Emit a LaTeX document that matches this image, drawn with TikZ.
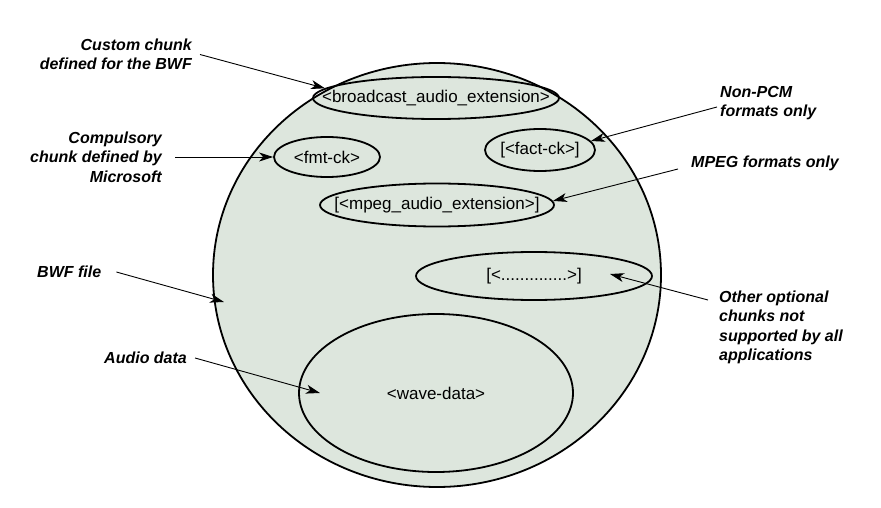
\documentclass[tikz,border=0pt]{standalone}
\usepackage{fontspec}
\setmainfont{Liberation Sans}
\usetikzlibrary{shapes.geometric,arrows.meta,positioning}
\definecolor{bwfgreen}{RGB}{221,230,221}

\begin{document}
\begin{tikzpicture}[x=1pt, y=-1pt,
    chunk/.style={ellipse, draw, line width=1.8pt, inner sep=0pt,
        label={[font=\fontsize{17}{20}\selectfont]center:{#1}}},
    note/.style={inner sep=0pt, font=\fontsize{16}{19.5}\selectfont\bfseries\itshape},
    arrow/.style={-{Stealth[length=14pt, width=9pt, inset=4pt]}, line width=0.9pt}]

    \useasboundingbox (0,0) rectangle (881,508);

    \node[chunk={}, fill=bwfgreen, minimum width=448pt, minimum height=424pt] (bwf) at (437,275) {};
    \node[chunk={<broadcast\_audio\_extension>}, minimum width=246pt, minimum height=42pt] (bcast) at (436,98) {};
    \node[chunk={<fmt-ck>}, minimum width=106pt, minimum height=40pt] (fmt) at (327,157) {};
    \node[chunk={[<fact-ck>]}, minimum width=110pt, minimum height=42pt] (fact) at (540,150) {};
    \node[chunk={[<mpeg\_audio\_extension>]}, minimum width=234pt, minimum height=43pt] (mpeg) at (437,205) {};
    \node[chunk={[<..............>]}, minimum width=236pt, minimum height=48pt] (other) at (534,276) {};
    \node[chunk={<wave-data>}, minimum width=274pt, minimum height=158pt] (wave) at (436,393) {};

    \node[note, align=right, anchor=east] (customnote) at (192,54.5) {Custom chunk\\defined for the BWF};
    \node[note, align=right, anchor=east] (fmtnote) at (162,157) {Compulsory\\chunk defined by\\Microsoft};
    \node[note, align=left, anchor=west] (factnote) at (720,103) {Non-PCM\\formats only};
    \node[note, align=left, anchor=west] (mpegnote) at (691,163) {MPEG formats only};
    \node[note, anchor=west] (bwfnote) at (37,272) {BWF file};
    \node[note, anchor=west] (wavenote) at (104,358) {Audio data};
    \node[note, align=left, anchor=west] (othernote) at (719,327.5) {Other optional\\chunks not\\supported by all\\applications};

    \coordinate (bwfin) at (224,302);
    \coordinate (wavein) at (320,393);
    \coordinate (otherin) at (610,274);

    \draw[arrow] ([xshift=8pt]customnote.east) -- (bcast.175);
    \draw[arrow] ([xshift=13pt]fmtnote.east) -- (fmt.west);
    \draw[arrow] ([xshift=-3pt, yshift=-4pt]factnote.west) -- (fact.10);
    \draw[arrow] ([xshift=-13pt, yshift=-6pt]mpegnote.west) -- (mpeg.2);
    \draw[arrow] ([xshift=15pt]bwfnote.east) -- (bwfin);
    \draw[arrow] ([xshift=8pt]wavenote.east) -- (wavein);
    \draw[arrow] ([xshift=-11pt, yshift=27.5pt]othernote.west) -- (otherin);
\end{tikzpicture}
\end{document}
